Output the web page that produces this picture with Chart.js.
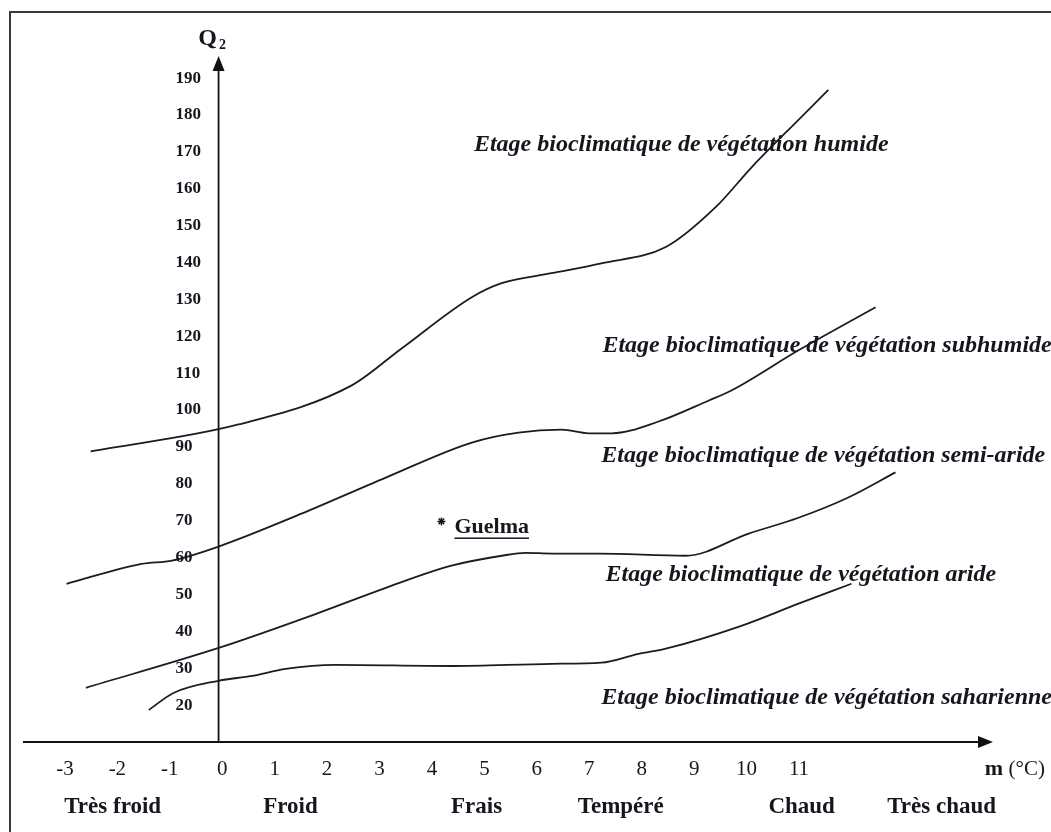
<!DOCTYPE html>
<html>
<head>
<meta charset="utf-8">
<script src="https://cdn.jsdelivr.net/npm/chart.js@4"></script>
<style>
  body { margin: 0; background: #fff; }
</style>
</head>
<body>
<canvas id="chart" width="1051" height="832"></canvas>
<script>
// Emberger climagram: m (°C) on x, Q2 on y, one boundary line per bioclimatic stage
const humideM = [-2.51, 0.31, 2.47, 3.42, 4.76, 5.33, 6.28, 7.23, 8.46, 9.41, 10.10, 10.99, 11.56];
const humideQ = [88.8, 96.1, 106.7, 116.7, 130.6, 134.4, 137.1, 139.8, 144.2, 155.0, 165.9, 178.7, 186.8];

const subhumideM = [-2.97, -1.54, -0.96, -0.07, 1.51, 3.12, 4.76, 5.65, 6.47, 6.99, 7.43, 8.32, 9.28, 9.71, 10.99, 12.46];
const subhumideQ = [52.9, 58.3, 59.2, 63.0, 71.9, 81.7, 91.2, 93.9, 94.7, 93.7, 93.7, 96.9, 102.6, 105.3, 116.2, 127.9];

const semiAridM = [-2.60, -0.07, 1.84, 3.12, 4.37, 5.33, 5.79, 6.28, 7.18, 8.84, 10.04, 10.99, 11.94, 12.84];
const semiAridQ = [24.7, 35.5, 45.0, 51.8, 57.8, 60.5, 61.3, 61.1, 61.1, 60.5, 66.5, 70.8, 76.3, 83.1];

const arideM = [-1.40, -0.93, -0.07, 0.56, 1.21, 2.16, 4.37, 6.28, 7.23, 7.94, 8.46, 9.90, 10.99, 12.00];
const arideQ = [18.7, 23.3, 26.6, 27.9, 29.8, 30.9, 30.6, 31.2, 31.5, 33.9, 35.3, 41.5, 47.5, 52.9];

const guelmaM = [4.18];
const guelmaQ = [69.8];

const yTicks = [20, 30, 40, 50, 60, 70, 80, 90, 100, 110, 120, 130, 140, 150, 160, 170, 180, 190];
const xTicks = [-3, -2, -1, 0, 1, 2, 3, 4, 5, 6, 7, 8, 9, 10, 11];

const zoneNames = ["Très froid", "Froid", "Frais", "Tempéré", "Chaud", "Très chaud"];
const zoneM = [-2.09, 1.30, 4.85, 7.60, 11.05, 13.72];

const stageNames = [
    "Etage bioclimatique de végétation humide",
    "Etage bioclimatique de végétation subhumide",
    "Etage bioclimatique de végétation semi-aride",
    "Etage bioclimatique de végétation aride",
    "Etage bioclimatique de végétation saharienne"
];
const stageM = [4.80, 7.25, 7.23, 7.31, 7.23];
const stageQ = [171.9, 117.5, 87.7, 55.4, 22.0];

const SERIF = '"Liberation Serif", "DejaVu Serif", serif';
const INK = "#16161f";

function points(ms, qs) {
    return ms.map((m, i) => ({ x: m, y: qs[i] }));
}

function curve(ms, qs) {
    return {
        data: points(ms, qs),
        borderColor: "#1c1c1c",
        borderWidth: 1.8,
        pointRadius: 0,
        cubicInterpolationMode: "monotone",
        fill: false
    };
}

function arrowHead(ctx, x, y, dir) {
    ctx.beginPath();
    if (dir === "up") {
        ctx.moveTo(x, y);
        ctx.lineTo(x - 6, y + 15);
        ctx.lineTo(x + 6, y + 15);
    } else {
        ctx.moveTo(x, y);
        ctx.lineTo(x - 15, y - 6);
        ctx.lineTo(x - 15, y + 6);
    }
    ctx.closePath();
    ctx.fill();
}

// frame, axes with arrows, ticks and all the text of the figure
const decor = {
    id: "decor",
    beforeDatasetsDraw(chart) {
        let ctx = chart.ctx;
        let xs = chart.scales.x, ys = chart.scales.y;
        let area = chart.chartArea;
        let axisX = xs.getPixelForValue(-0.07);
        let axisY = ys.getPixelForValue(10);

        ctx.save();
        ctx.strokeStyle = "#3a3a3a";
        ctx.lineWidth = 2;
        ctx.strokeRect(10, 12, 1200, 1000);

        ctx.strokeStyle = "#111";
        ctx.fillStyle = "#111";
        ctx.lineWidth = 2;
        ctx.beginPath();
        ctx.moveTo(area.left, axisY);
        ctx.lineTo(area.right - 8, axisY);
        ctx.stroke();
        arrowHead(ctx, area.right, axisY, "right");

        ctx.lineWidth = 1.8;
        ctx.beginPath();
        ctx.moveTo(axisX, axisY);
        ctx.lineTo(axisX, area.top + 8);
        ctx.stroke();
        arrowHead(ctx, axisX, area.top, "up");
        ctx.restore();
    },
    afterDatasetsDraw(chart) {
        let ctx = chart.ctx;
        let xs = chart.scales.x, ys = chart.scales.y;
        let area = chart.chartArea;
        let axisX = xs.getPixelForValue(-0.07);
        let axisY = ys.getPixelForValue(10);

        ctx.save();
        ctx.fillStyle = INK;
        ctx.textBaseline = "middle";

        // y ticks, left aligned, just left of the axis
        ctx.font = "bold 17px " + SERIF;
        ctx.textAlign = "left";
        yTicks.forEach(v => {
            ctx.fillText(String(v), axisX - 43, ys.getPixelForValue(v));
        });

        // x ticks
        ctx.font = "21px " + SERIF;
        ctx.textAlign = "center";
        xTicks.forEach(v => {
            ctx.fillText(String(v), xs.getPixelForValue(v), axisY + 27);
        });

        // axis titles
        ctx.textAlign = "right";
        ctx.font = "21px " + SERIF;
        ctx.fillText("(°C)", 1045, axisY + 27);
        let w = ctx.measureText("(°C)").width;
        ctx.font = "bold 22px " + SERIF;
        ctx.fillText("m ", 1045 - w, axisY + 27);

        ctx.textAlign = "center";
        ctx.font = "bold 24px " + SERIF;
        ctx.fillText("Q", axisX - 11, area.top - 17);
        ctx.font = "bold 14px " + SERIF;
        ctx.fillText("2", axisX + 4, area.top - 11);

        // thermal zones
        ctx.font = "bold 23px " + SERIF;
        zoneNames.forEach((name, i) => {
            ctx.fillText(name, xs.getPixelForValue(zoneM[i]), axisY + 65);
        });

        // stage names
        ctx.font = "italic bold 24px " + SERIF;
        ctx.textAlign = "left";
        stageNames.forEach((name, i) => {
            ctx.fillText(name, xs.getPixelForValue(stageM[i]), ys.getPixelForValue(stageQ[i]));
        });

        // station label next to its star
        let gx = xs.getPixelForValue(guelmaM[0]);
        let gy = ys.getPixelForValue(guelmaQ[0]);
        ctx.font = "bold 22px " + SERIF;
        ctx.fillText("Guelma", gx + 13, gy + 6);
        let gw = ctx.measureText("Guelma").width;
        ctx.fillRect(gx + 13, gy + 16, gw, 1.5);
        ctx.restore();
    }
};

new Chart(document.getElementById("chart"), {
    type: "line",
    data: {
        datasets: [
            curve(humideM, humideQ),
            curve(subhumideM, subhumideQ),
            curve(semiAridM, semiAridQ),
            curve(arideM, arideQ),
            {
                data: points(guelmaM, guelmaQ),
                showLine: false,
                pointStyle: "star",
                pointRadius: 4,
                borderColor: "#111",
                borderWidth: 1.4
            }
        ]
    },
    options: {
        responsive: false,
        animation: false,
        layout: { padding: { left: 23, right: 58, top: 56, bottom: 90 } },
        plugins: { legend: { display: false }, tooltip: { enabled: false } },
        scales: {
            x: { type: "linear", min: -3.8, max: 14.7, display: false },
            y: { type: "linear", min: 10, max: 196, display: false }
        }
    },
    plugins: [decor]
});
</script>
</body>
</html>
